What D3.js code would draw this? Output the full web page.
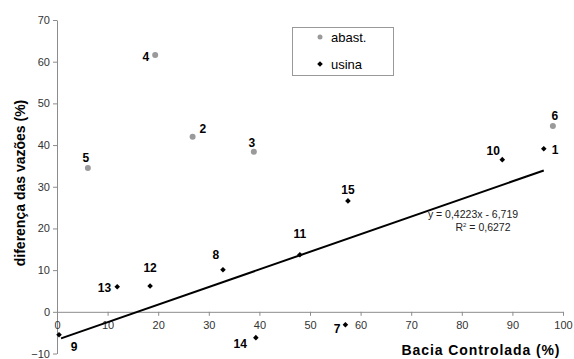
<!DOCTYPE html>
<html>
<head>
<meta charset="utf-8">
<script src="https://cdn.jsdelivr.net/npm/d3@7"></script>
<style>
  body { margin: 0; background: #fff; }
  svg { font-family: "Liberation Sans", Arial, sans-serif; }
</style>
</head>
<body>
<svg id="chart" width="574" height="359"></svg>
<script>
// abast. series (grey dots)
var abastIds = [2, 3, 4, 5, 6];
var abastX = [26.8, 38.9, 19.4, 6.1, 98.0];
var abastY = [42.0, 38.4, 61.6, 34.5, 44.6];

// usina series (black diamonds)
var usinaIds = [1, 7, 8, 9, 10, 11, 12, 13, 14, 15];
var usinaX = [96.2, 57.0, 32.8, 0.4, 88.0, 48.0, 18.4, 11.9, 39.3, 57.5];
var usinaY = [39.1, -3.1, 10.1, -5.5, 36.5, 13.7, 6.2, 6.0, -6.2, 26.6];

// linear trend on usina
var trendSlope = 0.4223;
var trendIntercept = -6.719;
var trendRange = [0.8, 96.2];

var xTicks = [0, 10, 20, 30, 40, 50, 60, 70, 80, 90, 100];
var yTicks = [-10, 0, 10, 20, 30, 40, 50, 60, 70];

// label offsets (px) from each marker
var labelOffset = {
  1: [8, 5, "start"], 2: [7, -4, "start"], 3: [-2, -5, "middle"],
  4: [-6, 6, "end"], 5: [-2, -6, "middle"], 6: [2, -6, "middle"],
  7: [-5, 8, "end"], 8: [-7, -11, "middle"], 9: [15, 16, "middle"],
  10: [-9, -5, "middle"], 11: [0, -17, "middle"], 12: [0, -14, "middle"],
  13: [-6, 5, "end"], 14: [-9, 10, "end"], 15: [0, -7, "middle"]
};

var svg = d3.select("#chart");

var x = d3.scaleLinear().domain([0, 100]).range([57, 563]);
var y = d3.scaleLinear().domain([-10, 70]).range([353.5, 20]);

var axisColor = "#8c8c8c";

// y axis
var yAxis = svg.append("g")
  .attr("transform", "translate(" + x(0) + ",0)")
  .call(d3.axisLeft(y).tickValues(yTicks).tickSize(4).tickSizeOuter(0));
yAxis.select(".domain").attr("stroke", axisColor);
yAxis.selectAll(".tick line").attr("stroke", axisColor);
yAxis.selectAll(".tick text")
  .attr("fill", "#333").style("font-size", "11px").attr("x", -7);

// x axis at y = 0
var xAxis = svg.append("g")
  .attr("transform", "translate(0," + y(0) + ")")
  .call(d3.axisBottom(x).tickValues(xTicks).tickSize(4).tickSizeOuter(0));
xAxis.select(".domain").attr("stroke", axisColor);
xAxis.selectAll(".tick line").attr("stroke", axisColor);
xAxis.selectAll(".tick text")
  .attr("fill", "#333").style("font-size", "11px").attr("y", 9);

// trend line
svg.append("line")
  .attr("x1", x(trendRange[0]))
  .attr("y1", y(trendSlope * trendRange[0] + trendIntercept))
  .attr("x2", x(trendRange[1]))
  .attr("y2", y(trendSlope * trendRange[1] + trendIntercept))
  .attr("stroke", "#000")
  .attr("stroke-width", 2);

svg.append("text")
  .attr("x", 473).attr("y", 218)
  .attr("text-anchor", "middle")
  .style("font-size", "10.5px").attr("fill", "#222")
  .text("y = 0,4223x - 6,719");
var r2 = svg.append("text")
  .attr("x", 483).attr("y", 231)
  .attr("text-anchor", "middle")
  .style("font-size", "10.5px").attr("fill", "#222");
r2.append("tspan").text("R");
r2.append("tspan").attr("dy", -4).style("font-size", "6px").text("2");
r2.append("tspan").attr("dy", 4).text(" = 0,6272");

var diamond = d3.symbol().type(d3.symbolDiamond2).size(20);

var abast = abastIds.map(function(id, i) { return {id: id, x: abastX[i], y: abastY[i]}; });
var usina = usinaIds.map(function(id, i) { return {id: id, x: usinaX[i], y: usinaY[i]}; });

svg.selectAll(".abast").data(abast).enter().append("circle")
  .attr("class", "abast")
  .attr("cx", function(d) { return x(d.x); })
  .attr("cy", function(d) { return y(d.y); })
  .attr("r", 3)
  .attr("fill", "#9a9a9a");

svg.selectAll(".usina").data(usina).enter().append("path")
  .attr("class", "usina")
  .attr("d", diamond)
  .attr("transform", function(d) { return "translate(" + x(d.x) + "," + y(d.y) + ")"; })
  .attr("fill", "#000");

// point labels
svg.selectAll(".plabel").data(abast.concat(usina)).enter().append("text")
  .attr("class", "plabel")
  .attr("x", function(d) { return x(d.x) + labelOffset[d.id][0]; })
  .attr("y", function(d) { return y(d.y) + labelOffset[d.id][1]; })
  .attr("text-anchor", function(d) { return labelOffset[d.id][2]; })
  .style("font-size", "12px").style("font-weight", "bold")
  .text(function(d) { return d.id; });

// axis titles
svg.append("text")
  .attr("transform", "translate(25,183) rotate(-90)")
  .attr("text-anchor", "middle")
  .style("font-size", "14px").style("font-weight", "bold")
  .text("diferença das vazões (%)");

svg.append("text")
  .attr("x", 481).attr("y", 355)
  .attr("text-anchor", "middle")
  .style("font-size", "14px").style("font-weight", "bold")
  .style("letter-spacing", "0.9px")
  .text("Bacia Controlada (%)");

// legend
var legend = svg.append("g").attr("transform", "translate(292,27)");
legend.append("rect")
  .attr("x", 0.5).attr("y", 0.5).attr("width", 101).attr("height", 48)
  .attr("fill", "#fff").attr("stroke", "#999");
legend.append("circle").attr("cx", 28).attr("cy", 10).attr("r", 2.5).attr("fill", "#9a9a9a");
legend.append("text").attr("x", 39).attr("y", 14.5).style("font-size", "13px").text("abast.");
legend.append("path").attr("d", diamond).attr("transform", "translate(28,37)").attr("fill", "#000");
legend.append("text").attr("x", 39).attr("y", 41.5).style("font-size", "13px").text("usina");
</script>
</body>
</html>
